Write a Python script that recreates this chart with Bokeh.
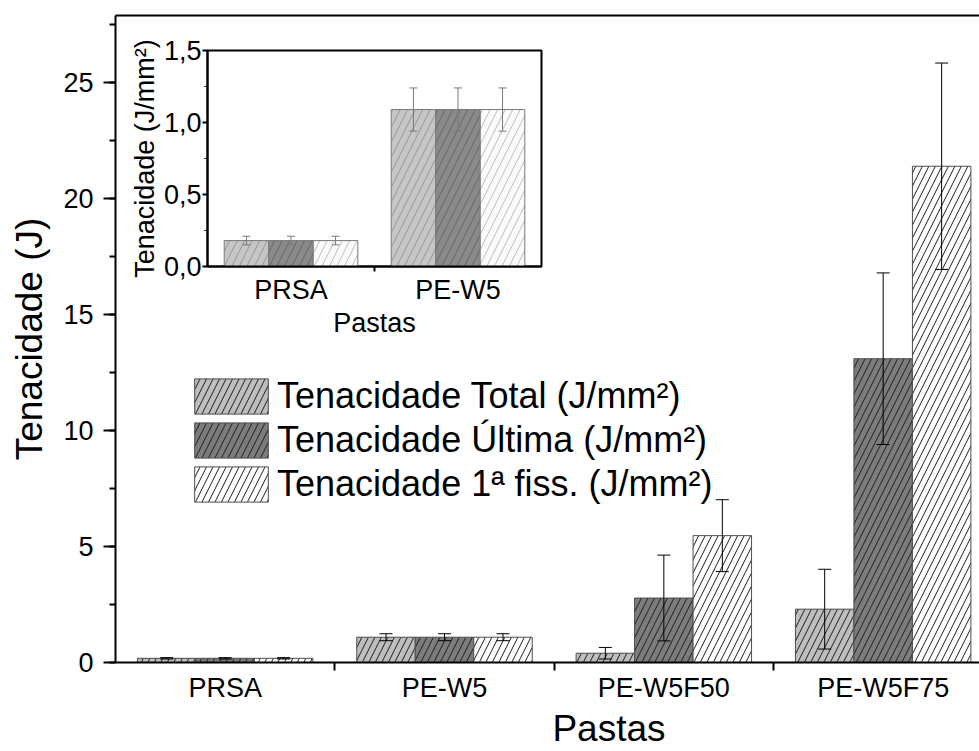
import numpy as np
from jinja2 import Template
from bokeh.plotting import figure
from bokeh.models import (Range1d, FixedTicker, SingleIntervalTicker, ColumnDataSource,
                          Whisker, TeeHead, Legend, LegendItem, LinearAxis)
from bokeh.embed import file_html
from bokeh.resources import INLINE

# ---- data -------------------------------------------------------------
pastas = ["PRSA", "PE-W5", "PE-W5F50", "PE-W5F75"]
series = ["Tenacidade Total (J/mm²)",
          "Tenacidade Última (J/mm²)",
          "Tenacidade 1ª fiss. (J/mm²)"]

total = [0.18, 1.09, 0.40, 2.30]
total_err = [0.03, 0.15, 0.25, 1.72]
ultima = [0.18, 1.09, 2.78, 13.1]
ultima_err = [0.03, 0.15, 1.85, 3.70]
fiss = [0.18, 1.09, 5.47, 21.4]
fiss_err = [0.03, 0.15, 1.55, 4.45]

inset_pastas = ["PRSA", "PE-W5"]
inset_ticks = [0.0, 0.5, 1.0, 1.5]
inset_tick_labels = ["0,0", "0,5", "1,0", "1,5"]

FONT = "Liberation Sans"
values = [total, ultima, fiss]
errors = [total_err, ultima_err, fiss_err]
fills = ["#bebebe", "#7c7c7c", "#ffffff"]
inset_fills = ["#c6c6c6", "#8a8a8a", "#fbfbfb"]

bar_w = 0.8 / 3
offsets = [-bar_w, 0.0, bar_w]


def style_axis(ax, label_size, title_size):
    ax.axis_label_text_font = FONT
    ax.axis_label_text_font_style = "normal"
    ax.axis_label_text_font_size = title_size
    ax.axis_label_text_color = "black"
    ax.major_label_text_font = FONT
    ax.major_label_text_font_size = label_size
    ax.major_label_text_color = "black"
    ax.axis_line_color = "black"
    ax.major_tick_line_color = "black"
    ax.minor_tick_line_color = "black"
    ax.major_tick_in = 0
    ax.minor_tick_in = 0


def grouped_bars(fig, cats, fill_colors, line_color, hatch_kw, err_color, cap):
    x = np.arange(len(cats))
    rends = []
    for k in range(3):
        vals = np.array(values[k][:len(cats)])
        errs = np.array(errors[k][:len(cats)])
        src = ColumnDataSource(dict(x=x + offsets[k], top=vals,
                                    upper=vals + errs, lower=vals - errs))
        r = fig.vbar(x="x", top="top", bottom=0, width=bar_w, source=src,
                     fill_color=fill_colors[k], line_color=line_color, line_width=1,
                     hatch_pattern="/", **hatch_kw)
        fig.add_layout(Whisker(source=src, base="x", upper="upper", lower="lower",
                               level="annotation", line_color=err_color, line_width=1,
                               upper_head=TeeHead(size=cap, line_color=err_color, line_width=1),
                               lower_head=TeeHead(size=cap, line_color=err_color, line_width=1)))
        rends.append(r)
    return rends


# ---- main chart (its frame runs on past the right edge of the page) -------
p = figure(width=1102, height=751, x_range=Range1d(-0.5, 4.0), y_range=Range1d(0, 27.9),
           output_backend="svg", toolbar_location=None,
           min_border_left=115, min_border_right=0, min_border_top=15, min_border_bottom=89,
           outline_line_color=None, background_fill_color="white", border_fill_color="white")
p.grid.visible = False
p.name = "main"

rends = grouped_bars(p, pastas, fills, "#4d4d4d",
                     dict(hatch_color="#1e1e1e", hatch_weight=1, hatch_scale=13),
                     "black", 13)

yax = p.yaxis[0]
yax.ticker = SingleIntervalTicker(interval=5, num_minor_ticks=2)
yax.axis_label = "Tenacidade (J)"
style_axis(yax, "27px", "37px")
yax.axis_line_width = 2
yax.major_tick_line_width = 2
yax.minor_tick_line_width = 2
yax.major_tick_out = 12
yax.minor_tick_out = 6
yax.major_label_standoff = 10
yax.axis_label_standoff = 10

xax = p.xaxis[0]
xax.ticker = FixedTicker(ticks=[0, 1, 2, 3], minor_ticks=[0.5, 1.5, 2.5])
xax.major_label_overrides = {i: name for i, name in enumerate(pastas)}
xax.axis_label = "Pastas"
style_axis(xax, "27px", "37px")
xax.axis_line_width = 2
xax.major_tick_line_color = None
xax.major_tick_out = 0
xax.minor_tick_out = 8
xax.minor_tick_line_width = 2
xax.major_label_standoff = 2
xax.axis_label_standoff = 2

top_ax = LinearAxis(ticker=FixedTicker(ticks=[]), axis_line_width=2, axis_line_color="black",
                    major_tick_line_color=None, minor_tick_line_color=None,
                    major_label_text_color=None)
p.add_layout(top_ax, "above")

legend = Legend(items=[LegendItem(label=series[k], renderers=[rends[k]]) for k in range(3)],
                location=(70, 156), glyph_width=92, glyph_height=44, spacing=0,
                padding=0, margin=0, label_standoff=0,
                label_text_font=FONT, label_text_font_size="36px", label_text_color="black",
                border_line_color=None, background_fill_alpha=0)
p.add_layout(legend)

# ---- inset chart --------------------------------------------------------
ins = figure(width=420, height=305, x_range=Range1d(-0.5, 1.5), y_range=Range1d(0, 1.5),
             output_backend="svg", toolbar_location=None,
             min_border_left=82, min_border_right=4, min_border_top=15, min_border_bottom=63,
             outline_line_color="black", outline_line_width=2,
             background_fill_color="white", border_fill_color="white")
ins.grid.visible = False
ins.name = "inset"

grouped_bars(ins, inset_pastas, inset_fills, "#7a7a7a",
             dict(hatch_color="black", hatch_alpha=0.25, hatch_weight=1, hatch_scale=15),
             "#7a7a7a", 8)

iy = ins.yaxis[0]
iy.ticker = FixedTicker(ticks=inset_ticks, minor_ticks=[0.25, 0.75, 1.25])
iy.major_label_overrides = dict(zip(inset_ticks, inset_tick_labels))
iy.axis_label = "Tenacidade (J/mm²)"
style_axis(iy, "27px", "27px")
iy.axis_line_width = 2
iy.major_tick_line_width = 2
iy.major_tick_out = 5
iy.minor_tick_out = 3
iy.major_label_standoff = 1
iy.axis_label_standoff = 1

ix = ins.xaxis[0]
ix.ticker = FixedTicker(ticks=[0, 1], minor_ticks=[0.5])
ix.major_label_overrides = {i: name for i, name in enumerate(inset_pastas)}
ix.axis_label = "Pastas"
style_axis(ix, "27px", "27px")
ix.axis_line_width = 2
ix.major_tick_line_color = None
ix.major_tick_out = 0
ix.minor_tick_out = 5
ix.minor_tick_line_width = 2
ix.major_label_standoff = 3
ix.axis_label_standoff = 0

# ---- page: inset laid over the main chart, clipped to the page size ------
page = Template("""{% extends base %}
{% block contents %}
<div style="position:relative;width:979px;height:751px;overflow:hidden;">
  <div style="position:absolute;left:0px;top:0px;">{{ embed(roots.main) }}</div>
  <div style="position:absolute;left:125px;top:35px;">{{ embed(roots.inset) }}</div>
</div>
{% endblock %}
""")

html = file_html([p, ins], INLINE, title="Tenacidade", template=page)
open("out.html", "w").write(html)
